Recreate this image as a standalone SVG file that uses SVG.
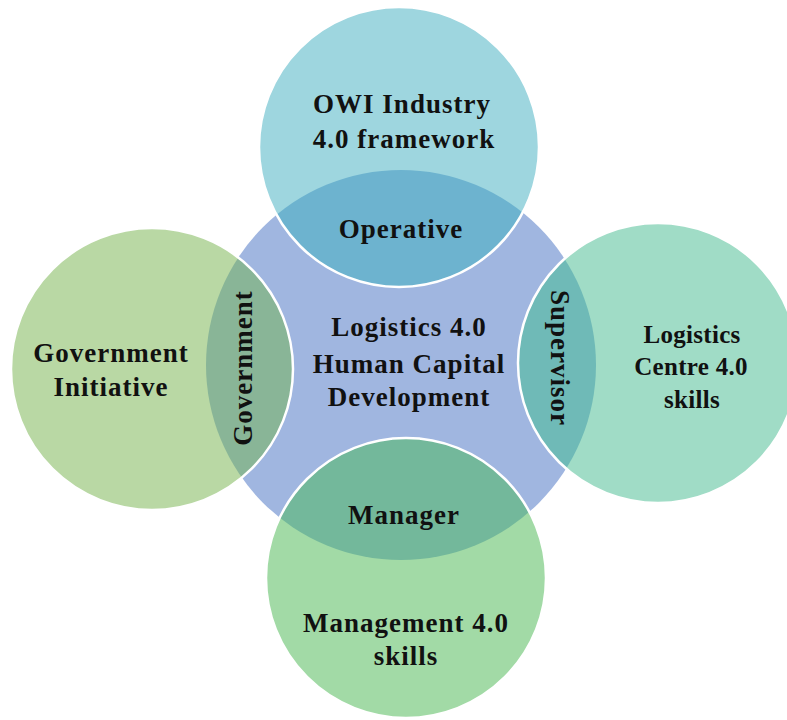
<svg xmlns="http://www.w3.org/2000/svg" width="787" height="720" viewBox="0 0 787 720">
<style>
text{font-family:"Liberation Serif","Times New Roman",serif;font-weight:bold;fill:#111;text-anchor:middle}
.big{font-size:27px;letter-spacing:1px}
.small{font-size:25px;letter-spacing:0.3px}
.edge{fill:none;stroke:#fff;stroke-width:2.5}
</style>
<defs>
<clipPath id="centreClip"><circle cx="401" cy="365" r="195"/></clipPath>
</defs>
<rect width="787" height="720" fill="#fff"/>
<g id="centre">
<circle cx="401" cy="365" r="195" fill="#a0b6e0"/>
</g>
<g id="top">
<circle cx="399" cy="147" r="140" fill="#9ed6df"/>
<circle cx="399" cy="147" r="140" fill="#6db3cf" clip-path="url(#centreClip)"/>
<circle cx="399" cy="147" r="140" class="edge"/>
<text class="big" x="402" y="113">OWI Industry</text>
<text class="big" x="404" y="148">4.0 framework</text>
<text class="big" x="401" y="238">Operative</text>
</g>
<g id="left">
<circle cx="152" cy="369" r="141" fill="#b9d8a4"/>
<circle cx="152" cy="369" r="141" fill="#89b597" clip-path="url(#centreClip)"/>
<circle cx="152" cy="369" r="141" class="edge"/>
<text class="big" x="111" y="362">Government</text>
<text class="big" x="111" y="396">Initiative</text>
<text class="big" transform="translate(252,368) rotate(-90)" x="0" y="0">Government</text>
</g>
<g id="right">
<circle cx="658" cy="363" r="140" fill="#a0dcc6"/>
<circle cx="658" cy="363" r="140" fill="#6fbab7" clip-path="url(#centreClip)"/>
<circle cx="658" cy="363" r="140" class="edge"/>
<text class="small" x="692" y="343">Logistics</text>
<text class="small" x="691" y="375">Centre 4.0</text>
<text class="small" x="692" y="408">skills</text>
<text class="big" transform="translate(551,358) rotate(90)" x="0" y="0">Supervisor</text>
</g>
<g id="bottom">
<circle cx="406" cy="578" r="140" fill="#a2daa6"/>
<circle cx="406" cy="578" r="140" fill="#73b89b" clip-path="url(#centreClip)"/>
<circle cx="406" cy="578" r="140" class="edge"/>
<text class="big" x="404" y="524">Manager</text>
<text class="big" x="406" y="632">Management 4.0</text>
<text class="big" x="406" y="665">skills</text>
</g>
<g id="centre-label">
<text class="big" x="409" y="336">Logistics 4.0</text>
<text class="big" x="409" y="373">Human Capital</text>
<text class="big" x="409" y="406">Development</text>
</g>
<g id="connectors"/>
</svg>
